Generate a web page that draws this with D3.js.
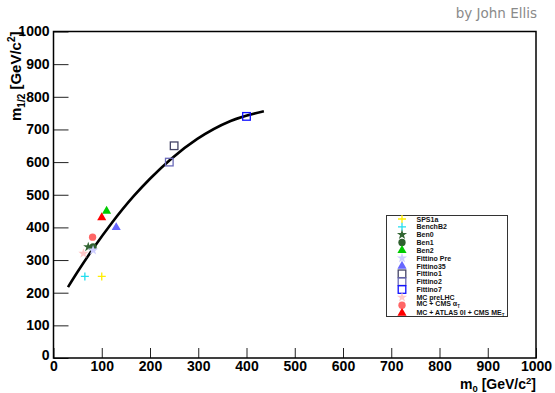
<!DOCTYPE html>
<html><head><meta charset="utf-8">
<script src="https://cdn.jsdelivr.net/npm/d3@7"></script>
<style>body{margin:0;background:#fff}svg{display:block;font-family:"Liberation Sans",Arial,Helvetica,sans-serif}</style>
</head><body><svg id="c" width="555" height="393"></svg>
<script>
// ---- data ----
const xDomain = [0, 1000];
const yDomain = [0, 1000];
const majorTicks = [0,100,200,300,400,500,600,700,800,900,1000];
const seriesNames = ["SPS1a","BenchB2","Ben0","Ben1","Ben2","Fittino Pre","Fittino35","Fittino1","Fittino2","Fittino7","MC preLHC","MC + CMS \u03b1","MC + ATLAS 0l + CMS ME"];
const seriesSub = ["","","","","","","","","","","","T","T"];
const seriesX = [100, 65, 72, 82, 110, 82, 130, 250, 240, 400, 62, 81, 100];
const seriesY = [250, 250, 340, 340, 450, 330, 400, 650, 600, 740, 320, 370, 430];
const seriesSymbol = ["cross","cross","star","circle","triangle","star","triangle","square","square","square","star","circle","triangle"];
const seriesColor = ["#ffee00","#22ddee","#336633","#2f5f2f","#00cc00","#ccccff","#6666ff","#444466","#6a6ab8","#1010ff","#ffc8c8","#ff6666","#ff0000"];
const curveX = [30, 50, 84, 120, 167, 200, 243, 298, 367, 436];
const curveY = [217, 264, 339, 412, 497, 549, 609, 671, 726, 756];

// ---- layout ----
const L = 53.5, T = 31.5, R = 536, B = 358;
const svg = d3.select("#c");
const x = d3.scaleLinear().domain(xDomain).range([L, R]);
const y = d3.scaleLinear().domain(yDomain).range([B, T]);

svg.append("text").attr("x", 537).attr("y", 18).attr("text-anchor","end")
  .attr("fill","#8a8a8a").style("font-family","'DejaVu Sans',sans-serif").style("font-size","13.5px").text("by John Ellis");

const minor = d3.range(0, 1001, 20);
// axes
const gy = svg.append("g").attr("transform",`translate(${L},0)`);
gy.call(d3.axisLeft(y).tickValues(minor).tickSize(-8).tickFormat(""));
gy.call(d3.axisLeft(y).tickValues(majorTicks).tickSize(-15).tickPadding(4).tickFormat(d3.format("d")));
const gx = svg.append("g").attr("transform",`translate(0,${B})`);
gx.call(d3.axisBottom(x).tickValues(minor).tickSize(-5).tickFormat(""));
gx.call(d3.axisBottom(x).tickValues(majorTicks).tickSize(-10).tickPadding(3).tickFormat(d3.format("d")));
svg.selectAll(".domain").remove();
svg.selectAll(".tick line").attr("stroke","#222").attr("stroke-width",1);
svg.selectAll(".tick text").attr("fill","#000").style("font-size","14px").style("font-weight","bold").style("font-family","'Liberation Sans',Arial,sans-serif");
gy.selectAll(".tick text").filter(d=>d===0).attr("dy","0.1em");

// frame
svg.append("rect").attr("x",L).attr("y",T).attr("width",R-L).attr("height",B-T)
  .attr("fill","none").attr("stroke","#000").attr("stroke-width",1.5);

// axis titles
const xt = svg.append("text").attr("x", R).attr("y", 389).attr("text-anchor","end")
  .style("font-weight","bold").style("font-size","14px");
xt.append("tspan").text("m");
xt.append("tspan").attr("dy",3).style("font-size","9.5px").text("0");
xt.append("tspan").attr("dy",-3).text(" [GeV/c");
xt.append("tspan").attr("dy",-5).style("font-size","9.5px").text("2");
xt.append("tspan").attr("dy",5).text("]");

const yt = svg.append("text").attr("transform",`translate(21,${T}) rotate(-90)`).attr("text-anchor","end")
  .style("font-weight","bold").style("font-size","15px");
yt.append("tspan").text("m");
yt.append("tspan").attr("dy",4).style("font-size","10px").text("1/2");
yt.append("tspan").attr("dy",-4).text(" [GeV/c");
yt.append("tspan").attr("dy",-6).style("font-size","10px").text("2");
yt.append("tspan").attr("dy",6).text("]");

// curve
const pts = curveX.map((d,i)=>[d, curveY[i]]);
svg.append("path").datum(pts)
  .attr("d", d3.line().x(d=>x(d[0])).y(d=>y(d[1])).curve(d3.curveMonotoneX))
  .attr("fill","none").attr("stroke","#000").attr("stroke-width",2.6);

// markers
function drawMarker(g, kind, color, cx, cy){
  if(kind==="cross"){
    g.append("path").attr("d",`M${cx-4},${cy}H${cx+4}M${cx},${cy-4}V${cy+4}`).attr("stroke",color).attr("stroke-width",1.3).attr("fill","none");
  } else if(kind==="square"){
    g.append("rect").attr("x",cx-3.8).attr("y",cy-3.8).attr("width",7.6).attr("height",7.6).attr("fill","none").attr("stroke",color).attr("stroke-width",1.3);
  } else {
    const t = {star:d3.symbolStar, circle:d3.symbolCircle, triangle:d3.symbolTriangle}[kind];
    const size = {star:32, circle:42, triangle:36}[kind];
    g.append("path").attr("transform",`translate(${cx},${cy})`).attr("d", d3.symbol().type(t).size(size)()).attr("fill",color);
  }
}
const mg = svg.append("g");
seriesNames.forEach((n,i)=> drawMarker(mg, seriesSymbol[i], seriesColor[i], x(seriesX[i]), y(seriesY[i])));

// legend
const lx = 386.5, ly = 215.5, lw = 121, lh = 101;
svg.append("rect").attr("x",lx).attr("y",ly).attr("width",lw).attr("height",lh)
  .attr("fill","#fff").attr("stroke","#333").attr("stroke-width",1);
const rowY = d3.scaleLinear().domain([0, seriesNames.length-1]).range([219, 313]);
const textShift = [0,0,0,0,0,0,0,0,0,0,0,-1.5,-0.5];
const lg = svg.append("g");
seriesNames.forEach((n,i)=>{
  drawMarker(lg, seriesSymbol[i], seriesColor[i], 402, rowY(i));
  const t = lg.append("text").attr("x",416.5).attr("y",rowY(i)+textShift[i]+2.5)
    .style("font-size","7px").style("font-weight","bold").attr("fill","#111").text(n);
  if(seriesSub[i]) t.append("tspan").attr("dy",1.5).style("font-size","4.5px").text(seriesSub[i]);
});
</script></body></html>
